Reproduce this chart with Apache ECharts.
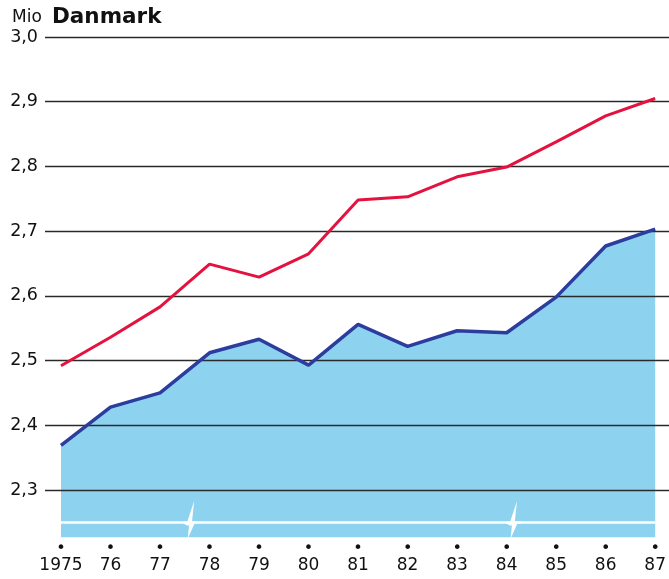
<!DOCTYPE html>
<html>
<head>
<meta charset="utf-8">
<script src="https://cdn.jsdelivr.net/npm/echarts@6/dist/echarts.min.js"></script>
<style>
  html, body { margin: 0; padding: 0; background: #fff; }
  #chart { width: 669px; height: 579px; }
</style>
</head>
<body>
<div id="chart"></div>
<script>
// Danmark, Mio
const years = ["1975", "76", "77", "78", "79", "80", "81", "82", "83", "84", "85", "86", "87"];
const upper = [2.492, 2.536, 2.583, 2.649, 2.629, 2.665, 2.748, 2.753, 2.784, 2.799, 2.838, 2.878, 2.905];
const lower = [2.369, 2.428, 2.450, 2.512, 2.533, 2.493, 2.556, 2.522, 2.546, 2.543, 2.598, 2.677, 2.703];

// axis range and the scale break drawn inside the area
const yMin = 2.2;
const yMax = 3.0;
const yStep = 0.1;
const areaFloor = 2.227;
const breakLevel = 2.25;
const breakAt = [2.64, 9.16]; // category positions of the zigzag marks

const FONT = "DejaVu Sans";
const chart = echarts.init(document.getElementById("chart"), null, { renderer: "canvas" });

const option = {
  backgroundColor: "#fff",
  animation: false,
  textStyle: { fontFamily: FONT },
  grid: [
    { left: 45, right: 0, top: 37, bottom: 24.3 },
    { left: 61, right: 13, top: 37, bottom: 24.3 },
  ],
  xAxis: [
    { gridIndex: 0, type: "value", min: 0, max: 1, show: false },
    {
      gridIndex: 1,
      type: "category",
      data: years,
      boundaryGap: false,
      axisLine: { show: false },
      axisTick: { show: false },
      axisLabel: {
        interval: 0,
        margin: -12,
        formatter: (v) => "{d|•}\n{t|" + v + "}",
        rich: {
          d: { fontSize: 16, lineHeight: 12, color: "#111", fontFamily: FONT },
          t: { fontSize: 17, lineHeight: 22, color: "#111", fontFamily: FONT },
        },
      },
    },
  ],
  yAxis: [
    {
      gridIndex: 0,
      type: "value",
      min: yMin,
      max: yMax,
      interval: yStep,
      z: 3,
      axisLine: { show: false },
      axisTick: { show: false },
      axisLabel: {
        margin: 7,
        fontSize: 17.5,
        color: "#111",
        fontFamily: FONT,
        formatter: (v) => (v < yMin + yStep / 2 ? "" : v.toFixed(1).replace(".", ",")),
      },
      splitLine: { showMinLine: false, lineStyle: { color: "#2a2a2a", width: 1.4 } },
    },
    { gridIndex: 1, type: "value", min: yMin, max: yMax, show: false, splitLine: { show: false } },
  ],
  series: [
    {
      name: "area",
      type: "line",
      xAxisIndex: 1,
      yAxisIndex: 1,
      data: lower,
      symbol: "none",
      z: 1,
      lineStyle: { width: 0 },
      areaStyle: { color: "#8dd3f0", opacity: 1, origin: areaFloor },
      markLine: {
        silent: true,
        symbol: "none",
        label: { show: false },
        lineStyle: { color: "#fff", type: "solid", width: 2.5 },
        data: [{ yAxis: breakLevel }],
      },
    },
    {
      name: "lower",
      type: "line",
      xAxisIndex: 1,
      yAxisIndex: 1,
      data: lower,
      symbol: "none",
      z: 4,
      lineStyle: { color: "#2c3d9e", width: 3.5 },
    },
    {
      name: "upper",
      type: "line",
      xAxisIndex: 1,
      yAxisIndex: 1,
      data: upper,
      symbol: "none",
      z: 4,
      lineStyle: { color: "#e3123f", width: 3 },
    },
  ],
};

chart.setOption(option);

// zigzag break marks on the white line
function px(pos) {
  const i0 = Math.floor(pos);
  const a = chart.convertToPixel({ xAxisIndex: 1, yAxisIndex: 1 }, [i0, breakLevel]);
  const b = chart.convertToPixel({ xAxisIndex: 1, yAxisIndex: 1 }, [i0 + 1, breakLevel]);
  const f = pos - i0;
  return [a[0] + (b[0] - a[0]) * f, a[1]];
}

const zig = [[-8, 0], [-4, 2], [0, -10], [-2, 9], [2, 0], [6, 0]];
const graphics = breakAt.map((pos) => {
  const [cx, cy] = px(pos);
  return {
    type: "polyline",
    z: 10,
    shape: { points: zig.map(([dx, dy]) => [cx + dx, cy + dy]) },
    style: { stroke: "#fff", lineWidth: 2.5, fill: null },
  };
});

graphics.push(
  { type: "text", left: 12, top: 9, z: 10, style: { text: "Mio", fontSize: 17, fontFamily: FONT, fill: "#111" } },
  { type: "text", left: 52, top: 6, z: 10, style: { text: "Danmark", fontSize: 21.5, fontWeight: "bold", fontFamily: FONT, fill: "#111" } }
);

chart.setOption({ graphic: graphics });
</script>
</body>
</html>
